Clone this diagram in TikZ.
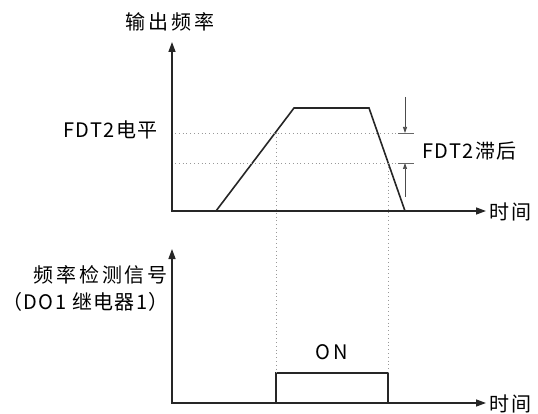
\documentclass[tikz,border=0pt]{standalone}
\usepackage{fontspec}
\setmainfont{Noto Sans CJK SC}[LetterSpace=14]
\newfontfamily\tightfont{Noto Sans CJK SC}[LetterSpace=7]
\usetikzlibrary{arrows.meta, positioning, calc}

\begin{document}
\begin{tikzpicture}[x=1pt, y=-1pt,
  axis/.style={line width=1.3pt, black!85,
    {Triangle[length=10pt,width=7pt]}-{Triangle[length=10pt,width=7pt]}},
  wave/.style={line width=1.6pt, black!85, line join=miter},
  guide/.style={gray!80, line width=0.8pt, dash pattern=on 0.8pt off 3pt},
  lag/.style={black!70, line width=0.7pt, -{Triangle[length=6pt,width=4pt]}},
  tick/.style={black!60, line width=0.6pt},
  lbl/.style={font=\fontsize{20}{22}\selectfont, inner sep=0pt, text=black},
]
\useasboundingbox (0,0) rectangle (538,414);
%% Output frequency axes
\coordinate (Y1) at (172,42);
\coordinate (O1) at (172,211);
\coordinate (X1) at (486,211);
\draw[axis] (Y1) -- (O1) -- (X1);
\node[lbl] (F) at (170,22) {输出频率};
\node[lbl, anchor=west] (T1) at (489,212) {时间};
%% Frequency ramp
\coordinate (R0) at (216,211);
\coordinate (R1) at (294,108);
\coordinate (R2) at (369,108);
\coordinate (R3) at (405,211);
\draw[wave] (R0) -- (R1) -- (R2) -- (R3);
%% FDT2 level and lag
\coordinate (L0) at (175,133);
\coordinate (L1) at (414,133);
\coordinate (H0) at (175,163);
\coordinate (H1) at (414,163);
\draw[guide] (L0) -- (L1);
\draw[guide] (H0) -- (H1);
\node[lbl, anchor=east] (LEV) at (158,130) {\tightfont FDT2电平};
\node[lbl, anchor=west] (HYS) at (422,151) {\tightfont FDT2滞后};
\coordinate (A0) at (405,97);
\coordinate (A1) at (405,133);
\coordinate (B0) at (405,197);
\coordinate (B1) at (405,163);
\draw[lag] (A0) -- (A1);
\draw[lag] (B0) -- (B1);
\draw[tick] (398,133) -- (L1);
\draw[tick] (398,163) -- (H1);
%% Detection signal axes
\coordinate (Y2) at (172,249);
\coordinate (O2) at (172,403);
\coordinate (X2) at (486,403);
\draw[axis] (Y2) -- (O2) -- (X2);
\node[lbl, anchor=east] (SIG) at (168,275) {频率检测信号};
\node[lbl, anchor=east] (DO) at (169,302) {\tightfont （DO1 继电器1）};
\node[lbl, anchor=west] (T2) at (489,404) {时间};
%% ON pulse
\coordinate (P0) at (276,403);
\coordinate (P1) at (276,373);
\coordinate (P2) at (388,373);
\coordinate (P3) at (388,403);
\draw[wave, line width=1.3pt] (P0) -- (P1) -- (P2) -- (P3);
\node[lbl] (ON) at (332,352) {ON};
%% Switching instants
\coordinate (S0) at (276,133);
\coordinate (S1) at (388,163);
\draw[guide] (S0) -- (P1);
\draw[guide] (S1) -- (P2);
\end{tikzpicture}
\end{document}
